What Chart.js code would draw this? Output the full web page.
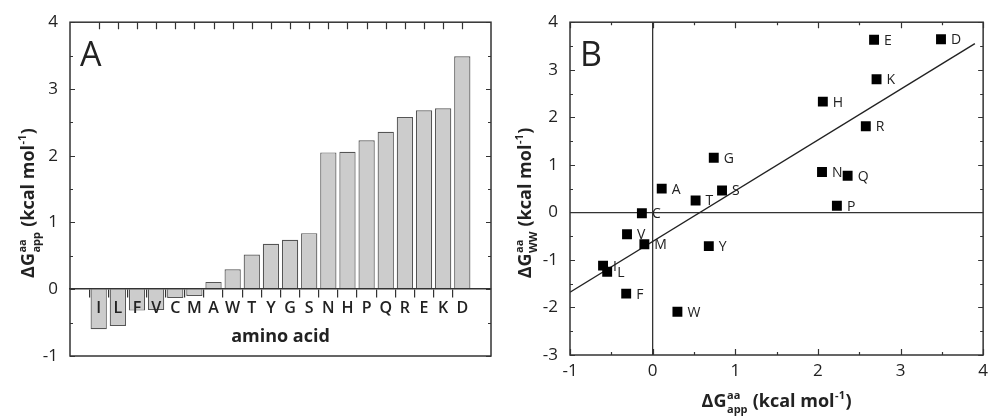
<!DOCTYPE html>
<html>
<head>
<meta charset="utf-8">
<script src="https://cdn.jsdelivr.net/npm/chart.js@4.4.1/dist/chart.umd.min.js"></script>
<style>
  html, body { margin: 0; padding: 0; background: #fff; }
  #wrapA { position: absolute; left: 0; top: 0; width: 500px; height: 418px; }
  #wrapB { position: absolute; left: 500px; top: 0; width: 494px; height: 418px; }
</style>
</head>
<body>
<div id="wrapA"><canvas id="chartA" width="500" height="418"></canvas></div>
<div id="wrapB"><canvas id="chartB" width="494" height="418"></canvas></div>
<script>
// ---------- data ----------
const aminoAcids = ['I','L','F','V','C','M','A','W','T','Y','G','S','N','H','P','Q','R','E','K','D'];
const dGapp = [-0.60,-0.55,-0.32,-0.31,-0.13,-0.10,0.11,0.30,0.52,0.68,0.74,0.84,2.05,2.06,2.23,2.36,2.58,2.68,2.71,3.49];
const dGww  = [-1.12,-1.25,-1.71,-0.46,-0.02,-0.67,0.50,-2.09,0.25,-0.71,1.15,0.46,0.85,2.33,0.14,0.77,1.81,3.63,2.80,3.64];
const fitX = [-1, 3.9];
const fitY = [-1.68, 3.55];
const panelLabels = ['A', 'B'];
const xTitleA = 'amino acid';

const FONT = '"Open Sans", "DejaVu Sans", sans-serif';
const INK = '#222';
const FRAME = '#333';

// rich text (super/subscripts) helper
function drawRich(ctx, parts, cx, cy, rotate) {
  const big = 'bold 18px ' + FONT, small = 'bold 11px ' + FONT;
  ctx.save();
  ctx.translate(cx, cy);
  if (rotate) ctx.rotate(-Math.PI / 2);
  let W = 0;
  for (const p of parts) {
    if (p.t !== undefined) { ctx.font = big; W += ctx.measureText(p.t).width; }
    else { ctx.font = small; W += Math.max(p.sup ? ctx.measureText(p.sup).width : 0, p.sub ? ctx.measureText(p.sub).width : 0) + 1; }
  }
  let x = -W / 2; const by = 6;
  ctx.fillStyle = INK; ctx.textAlign = 'left'; ctx.textBaseline = 'alphabetic';
  for (const p of parts) {
    if (p.t !== undefined) { ctx.font = big; ctx.fillText(p.t, x, by); x += ctx.measureText(p.t).width; }
    else {
      ctx.font = small;
      if (p.sup) ctx.fillText(p.sup, x + 0.5, by - 8);
      if (p.sub) ctx.fillText(p.sub, x + 0.5, by + 6);
      x += Math.max(p.sup ? ctx.measureText(p.sup).width : 0, p.sub ? ctx.measureText(p.sub).width : 0) + 1;
    }
  }
  ctx.restore();
}

function inwardTicks(ctx, area, scale, side, from, to, step, majorLen, minorLen) {
  ctx.save();
  ctx.strokeStyle = FRAME; ctx.lineWidth = 1.2;
  ctx.beginPath();
  for (let v = from; v <= to + 1e-9; v += step) {
    const isMajor = Math.abs(v - Math.round(v)) < 1e-6;
    const len = isMajor ? majorLen : minorLen;
    if (side === 'left' || side === 'right') {
      const y = Math.round(scale.getPixelForValue(v)) + 0.5;
      const x0 = side === 'left' ? area.left : area.right;
      const dir = side === 'left' ? 1 : -1;
      ctx.moveTo(x0, y); ctx.lineTo(x0 + dir * len, y);
    } else {
      const x = Math.round(scale.getPixelForValue(v)) + 0.5;
      const y0 = side === 'top' ? area.top : area.bottom;
      const dir = side === 'top' ? 1 : -1;
      ctx.moveTo(x, y0); ctx.lineTo(x, y0 + dir * len);
    }
  }
  ctx.stroke();
  ctx.restore();
}

function frame(ctx, a) {
  ctx.save();
  ctx.strokeStyle = FRAME; ctx.lineWidth = 1.5;
  ctx.strokeRect(a.left, a.top, a.right - a.left, a.bottom - a.top);
  ctx.restore();
}

// ---------- Chart A ----------
const plugA = {
  id: 'decorA',
  afterDraw(chart) {
    const ctx = chart.ctx, a = chart.chartArea, xs = chart.scales.x, ys = chart.scales.y;
    frame(ctx, a);
    // top ticks at each category
    ctx.save(); ctx.strokeStyle = FRAME; ctx.lineWidth = 1.2; ctx.beginPath();
    aminoAcids.forEach((_, i) => { const x = Math.round(xs.getPixelForValue(i)) + 0.5; ctx.moveTo(x, a.top); ctx.lineTo(x, a.top + 7); });
    ctx.stroke(); ctx.restore();
    inwardTicks(ctx, a, ys, 'left', -1, 4, 0.5, 5, 3);
    inwardTicks(ctx, a, ys, 'right', -1, 4, 0.5, 5, 3);
    ctx.save();
    ctx.fillStyle = INK; ctx.font = '34px ' + FONT; ctx.textAlign = 'left'; ctx.textBaseline = 'alphabetic';
    ctx.fillText(panelLabels[0], a.left + 10, a.top + 44);
    ctx.font = 'bold 18px ' + FONT; ctx.textAlign = 'center'; ctx.textBaseline = 'middle';
    ctx.fillText(xTitleA, (a.left + a.right) / 2, 337);
    ctx.restore();
    drawRich(ctx, [{t:'\u0394G'}, {sup:'aa', sub:'app'}, {t:' (kcal mol'}, {sup:'-1'}, {t:')'}], 28, 203, true);
  }
};

new Chart(document.getElementById('chartA'), {
  type: 'bar',
  data: {
    datasets: [{
      data: aminoAcids.map((_, i) => ({ x: i, y: dGapp[i] })),
      backgroundColor: '#cccccc',
      borderColor: '#555555',
      borderWidth: 1.2,
      categoryPercentage: 1,
      barPercentage: 0.85
    }]
  },
  options: {
    responsive: false,
    animation: false,
    devicePixelRatio: 1,
    layout: { padding: { left: 0, top: 17, right: 9, bottom: 62 } },
    plugins: { legend: { display: false }, tooltip: { enabled: false } },
    scales: {
      x: {
        type: 'linear', min: -1, max: 20, position: { y: 0 },
        grid: { z: 1, drawOnChartArea: false, drawTicks: true, tickLength: 8, lineWidth: 1.2,
          tickColor: (c) => (c.tick && c.tick.value >= 0 && c.tick.value <= 19) ? FRAME : 'rgba(0,0,0,0)' },
        border: { z: 1, display: true, color: FRAME, width: 1.5 },
        ticks: { z: 1, stepSize: 1, autoSkip: false, maxRotation: 0, padding: 2, color: INK,
          font: { family: FONT, size: 16, weight: '600' },
          callback: (v) => (aminoAcids[v] !== undefined ? aminoAcids[v] : '') }
      },
      y: {
        min: -1, max: 4,
        afterFit: (s) => { s.width = 70; },
        grid: { display: false, drawTicks: false },
        border: { display: false },
        ticks: { stepSize: 1, padding: 12, color: INK, font: { family: FONT, size: 17 } }
      }
    }
  },
  plugins: [plugA]
});

// ---------- Chart B ----------
const plugB = {
  id: 'decorB',
  afterDatasetsDraw(chart) {
    const ctx = chart.ctx;
    const meta = chart.getDatasetMeta(0);
    ctx.save();
    ctx.fillStyle = INK; ctx.font = '14px ' + FONT; ctx.textAlign = 'left'; ctx.textBaseline = 'middle';
    meta.data.forEach((el, i) => { ctx.fillText(aminoAcids[i], el.x + 10, el.y + 1); });
    ctx.restore();
  },
  afterDraw(chart) {
    const ctx = chart.ctx, a = chart.chartArea, xs = chart.scales.x, ys = chart.scales.y;
    frame(ctx, a);
    inwardTicks(ctx, a, ys, 'left', -3, 4, 0.5, 5, 3);
    inwardTicks(ctx, a, ys, 'right', -3, 4, 0.5, 5, 3);
    inwardTicks(ctx, a, xs, 'top', -1, 4, 0.5, 6, 3);
    inwardTicks(ctx, a, xs, 'bottom', -1, 4, 0.5, 6, 3);
    ctx.save();
    ctx.fillStyle = INK; ctx.font = '34px ' + FONT; ctx.textAlign = 'left'; ctx.textBaseline = 'alphabetic';
    ctx.fillText(panelLabels[1], a.left + 10, a.top + 44);
    ctx.restore();
    drawRich(ctx, [{t:'\u0394G'}, {sup:'aa', sub:'WW'}, {t:' (kcal mol'}, {sup:'-1'}, {t:')'}], 25, 203, true);
    drawRich(ctx, [{t:'\u0394G'}, {sup:'aa', sub:'app'}, {t:' (kcal mol'}, {sup:'-1'}, {t:')'}], (a.left + a.right) / 2, 401, false);
  }
};

const zeroLine = (c) => (c.tick && c.tick.value === 0) ? FRAME : 'rgba(0,0,0,0)';

new Chart(document.getElementById('chartB'), {
  type: 'scatter',
  data: {
    datasets: [
      {
        data: aminoAcids.map((_, i) => ({ x: dGapp[i], y: dGww[i] })),
        pointStyle: 'rect', pointRadius: 7, pointHoverRadius: 7,
        backgroundColor: '#000', borderColor: '#000', borderWidth: 0
      },
      {
        data: fitX.map((x, i) => ({ x: x, y: fitY[i] })),
        showLine: true, pointRadius: 0, borderColor: '#222', borderWidth: 1.4, fill: false
      }
    ]
  },
  options: {
    responsive: false,
    animation: false,
    devicePixelRatio: 1,
    layout: { padding: { left: 0, top: 17, right: 4, bottom: 0 } },
    plugins: { legend: { display: false }, tooltip: { enabled: false } },
    scales: {
      x: {
        type: 'linear', min: -1, max: 4,
        afterFit: (s) => { s.height = 63; },
        grid: { color: zeroLine, lineWidth: 1.3, drawTicks: false },
        border: { display: false },
        ticks: { stepSize: 1, padding: 6, color: INK, font: { family: FONT, size: 17 } }
      },
      y: {
        min: -3, max: 4,
        afterFit: (s) => { s.width = 70; },
        grid: { color: zeroLine, lineWidth: 1.3, drawTicks: false },
        border: { display: false },
        ticks: { stepSize: 1, padding: 12, color: INK, font: { family: FONT, size: 17 } }
      }
    }
  },
  plugins: [plugB]
});
</script>
</body>
</html>
